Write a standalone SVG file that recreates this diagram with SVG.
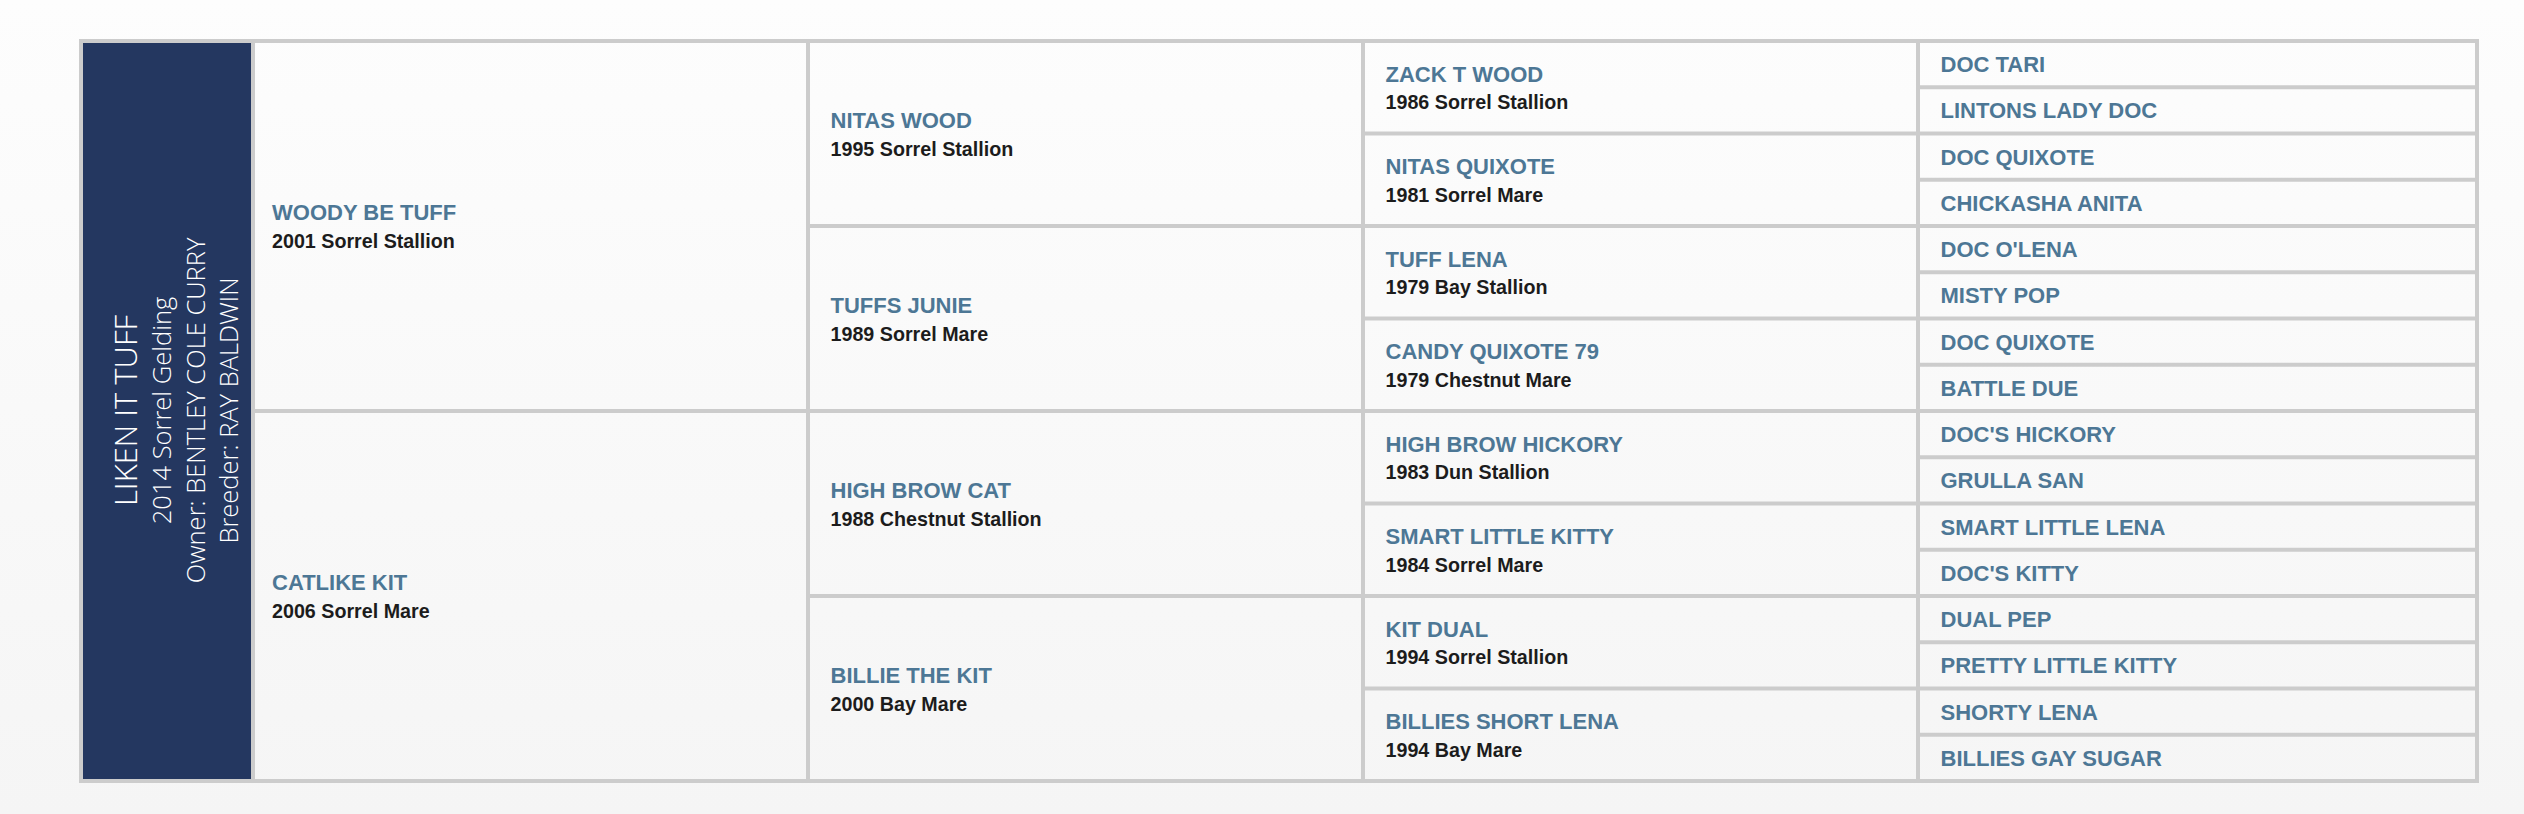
<svg xmlns="http://www.w3.org/2000/svg" width="2524" height="814" viewBox="0 0 2524 814">
<defs>
<linearGradient id="bg" gradientUnits="userSpaceOnUse" x1="0" y1="0" x2="0" y2="814">
<stop offset="0" stop-color="#fdfdfd"/>
<stop offset="1" stop-color="#f5f5f5"/>
</linearGradient>
</defs>
<style>
.cell{fill:url(#bg)}
.nm{font-family:"Liberation Sans",Arial,sans-serif;font-weight:bold;font-size:22px;fill:#4d7795}
.ds{font-family:"Liberation Sans",Arial,sans-serif;font-weight:bold;font-size:19.7px;fill:#1c1c1c}
.sub{font-family:"Open Sans","Liberation Sans",sans-serif;font-weight:300;fill:#ffffff;text-anchor:middle}
</style>
<rect x="0" y="0" width="2524" height="814" fill="url(#bg)"/>
<rect id="frame" x="79" y="39" width="2400" height="744" fill="#cccccc"/>
<g id="connectors"></g>
<g id="subject">
<rect x="83" y="43" width="168" height="736" fill="#243760"/>
<g transform="rotate(-90)">
<text class="sub" x="-410.5" y="136.5" font-size="31">LIKEN IT TUFF</text>
<text class="sub" x="-410.5" y="171" font-size="25.5">2014 Sorrel Gelding</text>
<text class="sub" x="-410.5" y="205" font-size="25.5">Owner: BENTLEY COLE CURRY</text>
<text class="sub" x="-410.5" y="238" font-size="25.5">Breeder: RAY BALDWIN</text>
</g>
</g>
<g id="sire">
<rect class="cell" x="255" y="43" width="551" height="366"/>
<text class="nm" x="272" y="220">WOODY BE TUFF</text>
<text class="ds" x="272" y="248">2001 Sorrel Stallion</text>
</g>
<g id="dam">
<rect class="cell" x="255" y="413" width="551" height="366"/>
<text class="nm" x="272" y="590">CATLIKE KIT</text>
<text class="ds" x="272" y="618">2006 Sorrel Mare</text>
</g>
<g id="ss">
<rect class="cell" x="810" y="43" width="551" height="181"/>
<text class="nm" x="830.5" y="127.5">NITAS WOOD</text>
<text class="ds" x="830.5" y="155.5">1995 Sorrel Stallion</text>
</g>
<g id="sd">
<rect class="cell" x="810" y="228" width="551" height="181"/>
<text class="nm" x="830.5" y="312.5">TUFFS JUNIE</text>
<text class="ds" x="830.5" y="340.5">1989 Sorrel Mare</text>
</g>
<g id="ds">
<rect class="cell" x="810" y="413" width="551" height="181"/>
<text class="nm" x="830.5" y="497.5">HIGH BROW CAT</text>
<text class="ds" x="830.5" y="525.5">1988 Chestnut Stallion</text>
</g>
<g id="dd">
<rect class="cell" x="810" y="598" width="551" height="181"/>
<text class="nm" x="830.5" y="682.5">BILLIE THE KIT</text>
<text class="ds" x="830.5" y="710.5">2000 Bay Mare</text>
</g>
<g id="sss">
<rect class="cell" x="1365" y="43" width="551" height="88.5"/>
<text class="nm" x="1385.5" y="81.75">ZACK T WOOD</text>
<text class="ds" x="1385.5" y="109.25">1986 Sorrel Stallion</text>
</g>
<g id="ssd">
<rect class="cell" x="1365" y="135.5" width="551" height="88.5"/>
<text class="nm" x="1385.5" y="174.25">NITAS QUIXOTE</text>
<text class="ds" x="1385.5" y="201.75">1981 Sorrel Mare</text>
</g>
<g id="sds">
<rect class="cell" x="1365" y="228" width="551" height="88.5"/>
<text class="nm" x="1385.5" y="266.75">TUFF LENA</text>
<text class="ds" x="1385.5" y="294.25">1979 Bay Stallion</text>
</g>
<g id="sdd">
<rect class="cell" x="1365" y="320.5" width="551" height="88.5"/>
<text class="nm" x="1385.5" y="359.25">CANDY QUIXOTE 79</text>
<text class="ds" x="1385.5" y="386.75">1979 Chestnut Mare</text>
</g>
<g id="dss">
<rect class="cell" x="1365" y="413" width="551" height="88.5"/>
<text class="nm" x="1385.5" y="451.75">HIGH BROW HICKORY</text>
<text class="ds" x="1385.5" y="479.25">1983 Dun Stallion</text>
</g>
<g id="dsd">
<rect class="cell" x="1365" y="505.5" width="551" height="88.5"/>
<text class="nm" x="1385.5" y="544.25">SMART LITTLE KITTY</text>
<text class="ds" x="1385.5" y="571.75">1984 Sorrel Mare</text>
</g>
<g id="dds">
<rect class="cell" x="1365" y="598" width="551" height="88.5"/>
<text class="nm" x="1385.5" y="636.75">KIT DUAL</text>
<text class="ds" x="1385.5" y="664.25">1994 Sorrel Stallion</text>
</g>
<g id="ddd">
<rect class="cell" x="1365" y="690.5" width="551" height="88.5"/>
<text class="nm" x="1385.5" y="729.25">BILLIES SHORT LENA</text>
<text class="ds" x="1385.5" y="756.75">1994 Bay Mare</text>
</g>
<g id="g1"><rect class="cell" x="1920" y="43" width="555" height="42.25"/><text class="nm" x="1940.5" y="72.1">DOC TARI</text></g>
<g id="g2"><rect class="cell" x="1920" y="89.25" width="555" height="42.25"/><text class="nm" x="1940.5" y="118.35">LINTONS LADY DOC</text></g>
<g id="g3"><rect class="cell" x="1920" y="135.5" width="555" height="42.25"/><text class="nm" x="1940.5" y="164.6">DOC QUIXOTE</text></g>
<g id="g4"><rect class="cell" x="1920" y="181.75" width="555" height="42.25"/><text class="nm" x="1940.5" y="210.85">CHICKASHA ANITA</text></g>
<g id="g5"><rect class="cell" x="1920" y="228" width="555" height="42.25"/><text class="nm" x="1940.5" y="257.1">DOC O'LENA</text></g>
<g id="g6"><rect class="cell" x="1920" y="274.25" width="555" height="42.25"/><text class="nm" x="1940.5" y="303.35">MISTY POP</text></g>
<g id="g7"><rect class="cell" x="1920" y="320.5" width="555" height="42.25"/><text class="nm" x="1940.5" y="349.6">DOC QUIXOTE</text></g>
<g id="g8"><rect class="cell" x="1920" y="366.75" width="555" height="42.25"/><text class="nm" x="1940.5" y="395.85">BATTLE DUE</text></g>
<g id="g9"><rect class="cell" x="1920" y="413" width="555" height="42.25"/><text class="nm" x="1940.5" y="442.1">DOC'S HICKORY</text></g>
<g id="g10"><rect class="cell" x="1920" y="459.25" width="555" height="42.25"/><text class="nm" x="1940.5" y="488.35">GRULLA SAN</text></g>
<g id="g11"><rect class="cell" x="1920" y="505.5" width="555" height="42.25"/><text class="nm" x="1940.5" y="534.6">SMART LITTLE LENA</text></g>
<g id="g12"><rect class="cell" x="1920" y="551.75" width="555" height="42.25"/><text class="nm" x="1940.5" y="580.85">DOC'S KITTY</text></g>
<g id="g13"><rect class="cell" x="1920" y="598" width="555" height="42.25"/><text class="nm" x="1940.5" y="627.1">DUAL PEP</text></g>
<g id="g14"><rect class="cell" x="1920" y="644.25" width="555" height="42.25"/><text class="nm" x="1940.5" y="673.35">PRETTY LITTLE KITTY</text></g>
<g id="g15"><rect class="cell" x="1920" y="690.5" width="555" height="42.25"/><text class="nm" x="1940.5" y="719.6">SHORTY LENA</text></g>
<g id="g16"><rect class="cell" x="1920" y="736.75" width="555" height="42.25"/><text class="nm" x="1940.5" y="765.85">BILLIES GAY SUGAR</text></g>
</svg>
